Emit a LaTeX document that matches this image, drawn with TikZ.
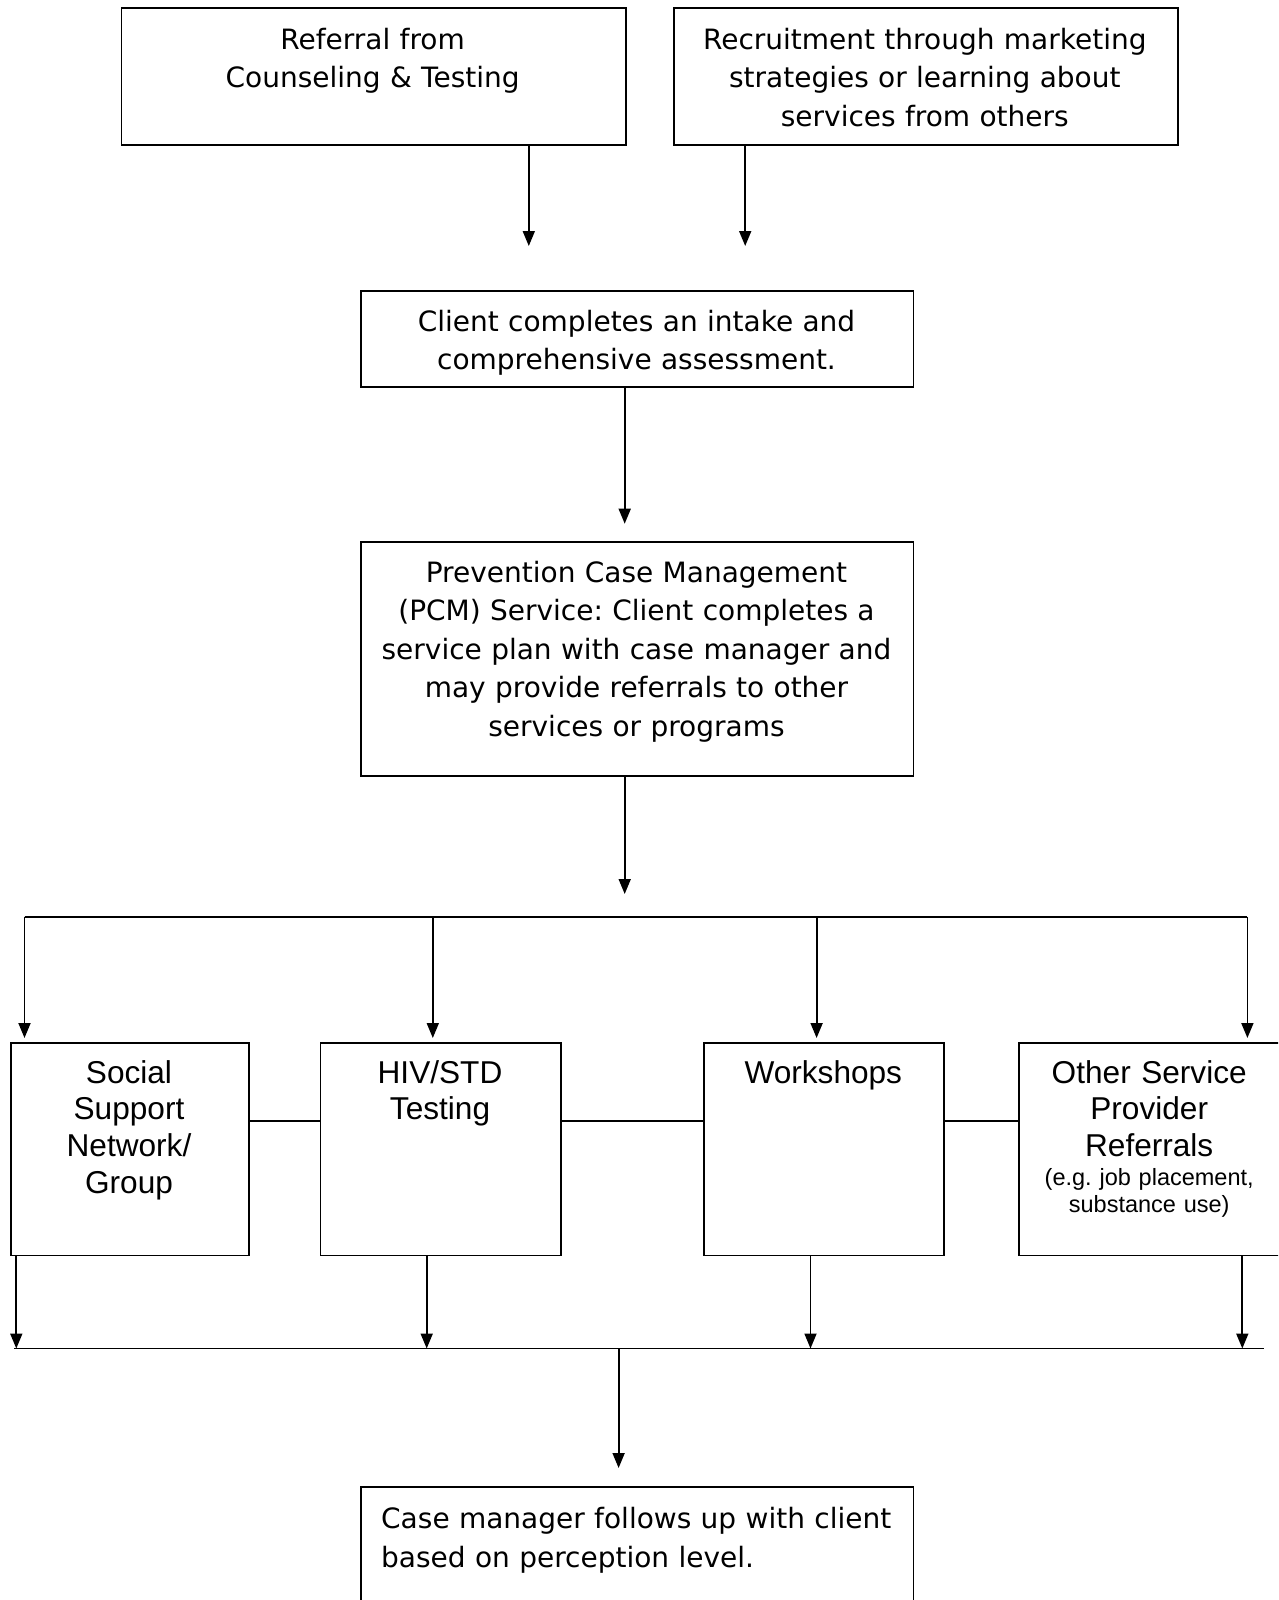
\documentclass[tikz,border=0pt]{standalone}
\usepackage{fontspec}
\newfontfamily\vfont{DejaVu Sans}
\newfontfamily\afont{Liberation Sans}
\usetikzlibrary{arrows.meta}
\frenchspacing
\begin{document}
\begin{tikzpicture}[x=1pt,y=-1pt,
  box/.style={draw, line width=1.8pt, inner sep=0pt, anchor=north west},
  vtxt/.style={font=\vfont\fontsize{28}{38.5}\selectfont, align=center, inner sep=0pt, anchor=base},
  rowtxt/.style={font=\afont\fontsize{31.6}{36.75}\selectfont, align=center, inner sep=0pt, anchor=base},
  smalltxt/.style={font=\afont\fontsize{23.5}{27.6}\selectfont, align=center, inner sep=0pt, anchor=base},
  arr/.style={line width=1.8pt, -{Triangle[length=15pt,width=12pt]}},
  ln/.style={line width=1.8pt}]
\useasboundingbox (0,0) rectangle (1278,1600);
\clip (0,0) rectangle (1278,1600);
\fill[white] (0,0) rectangle (1278,1600);

% boxes
\node[box, minimum width=504.2pt, minimum height=137pt] (refbox) at (120.5,7) {};
\node[box, minimum width=504.3pt, minimum height=137pt] (recbox) at (672.7,7) {};
\node[box, minimum width=552.3pt, minimum height=96pt] (intake) at (360.3,290) {};
\node[box, minimum width=552.3pt, minimum height=234pt] (pcm) at (360.3,541) {};
\node[box, minimum width=237.8pt, minimum height=212.5pt] (social) at (10.2,1042) {};
\node[box, minimum width=240.9pt, minimum height=212.5pt] (hiv) at (319.5,1042) {};
\node[box, minimum width=239.9pt, minimum height=212.5pt] (work) at (703.3,1042) {};
\node[box, minimum width=263pt, minimum height=212.5pt] (other) at (1017.7,1042) {};
\node[box, minimum width=552.3pt, minimum height=150pt] (follow) at (360.3,1486) {};

% texts
\node[vtxt, text width=500pt] (reftxt) at (372.6,49.5) {Referral from\\Counseling \& Testing};
\node[vtxt, text width=500pt] (rectxt) at (924.8,49.5) {Recruitment through marketing\\strategies or learning about\\services from others};
\node[vtxt, text width=548pt] (intaketxt) at (636.5,331) {Client completes an intake and\\comprehensive assessment.};
\node[vtxt, text width=548pt] (pcmtxt) at (636.5,582) {Prevention Case Management\\(PCM) Service: Client completes a\\service plan with case manager and\\may provide referrals to other\\services or programs};
\node[rowtxt, text width=234pt] (socialtxt) at (129,1083) {Social\\Support\\Network/\\Group};
\node[rowtxt, text width=236pt] (hivtxt) at (440,1083) {HIV/STD\\Testing};
\node[rowtxt, text width=236pt] (worktxt) at (823.3,1083) {Workshops};
\node[rowtxt, text width=258pt] (othertxt) at (1149.2,1083) {Other Service\\Provider\\Referrals};
\node[smalltxt, text width=258pt] (othersub) at (1149.2,1185) {(e.g. job placement,\\substance use)};
\node[vtxt, text width=530pt, align=left, anchor=base west] (followtxt) at (381,1528.6) {Case manager follows up with client\\based on perception level.};

% top arrows
\coordinate (a1) at (528.8,246);
\coordinate (a2) at (745.2,246);
\draw[arr] (refbox.south -| a1) -- (a1);
\draw[arr] (recbox.south -| a2) -- (a2);
\coordinate (a3) at (624.7,523.7);
\draw[arr] (intake.south -| a3) -- (a3);
\coordinate (a4) at (624.7,894);
\draw[arr] (pcm.south -| a4) -- (a4);

% distribution line
\coordinate (hl) at (24.5,916.7);
\coordinate (hr) at (1247.4,916.7);
\draw[ln] (hl) -- (hr);
\coordinate (h2) at (432.8,916.7);
\coordinate (h3) at (816.6,916.7);
\draw[arr, shorten >=4pt] (hl) -- (social.north -| hl);
\draw[arr, shorten >=4pt] (h2) -- (hiv.north -| h2);
\draw[arr, shorten >=4pt] (h3) -- (work.north -| h3);
\draw[arr, shorten >=4pt] (hr) -- (other.north -| hr);

% side links
\draw[ln] (social.east |- 0,1120.8) -- (hiv.west |- 0,1120.8);
\draw[ln] (hiv.east |- 0,1120.8) -- (work.west |- 0,1120.8);
\draw[ln] (work.east |- 0,1120.8) -- (other.west |- 0,1120.8);

% collecting line
\coordinate (b1) at (16.3,1348.5);
\coordinate (b2) at (426.7,1348.5);
\coordinate (b3) at (810.5,1348.5);
\coordinate (b4) at (1242.3,1348.5);
\draw[arr] (social.south -| b1) -- (b1);
\draw[arr] (hiv.south -| b2) -- (b2);
\draw[arr] (work.south -| b3) -- (b3);
\draw[arr] (other.south -| b4) -- (b4);
\coordinate (bl) at (14.3,1348.5);
\coordinate (br) at (1263.8,1348.5);
\draw[ln] (bl) -- (br);

% final arrow
\coordinate (fa) at (618.6,1348.5);
\coordinate (fb) at (618.6,1468);
\draw[arr] (fa) -- (fb);
\end{tikzpicture}
\end{document}
